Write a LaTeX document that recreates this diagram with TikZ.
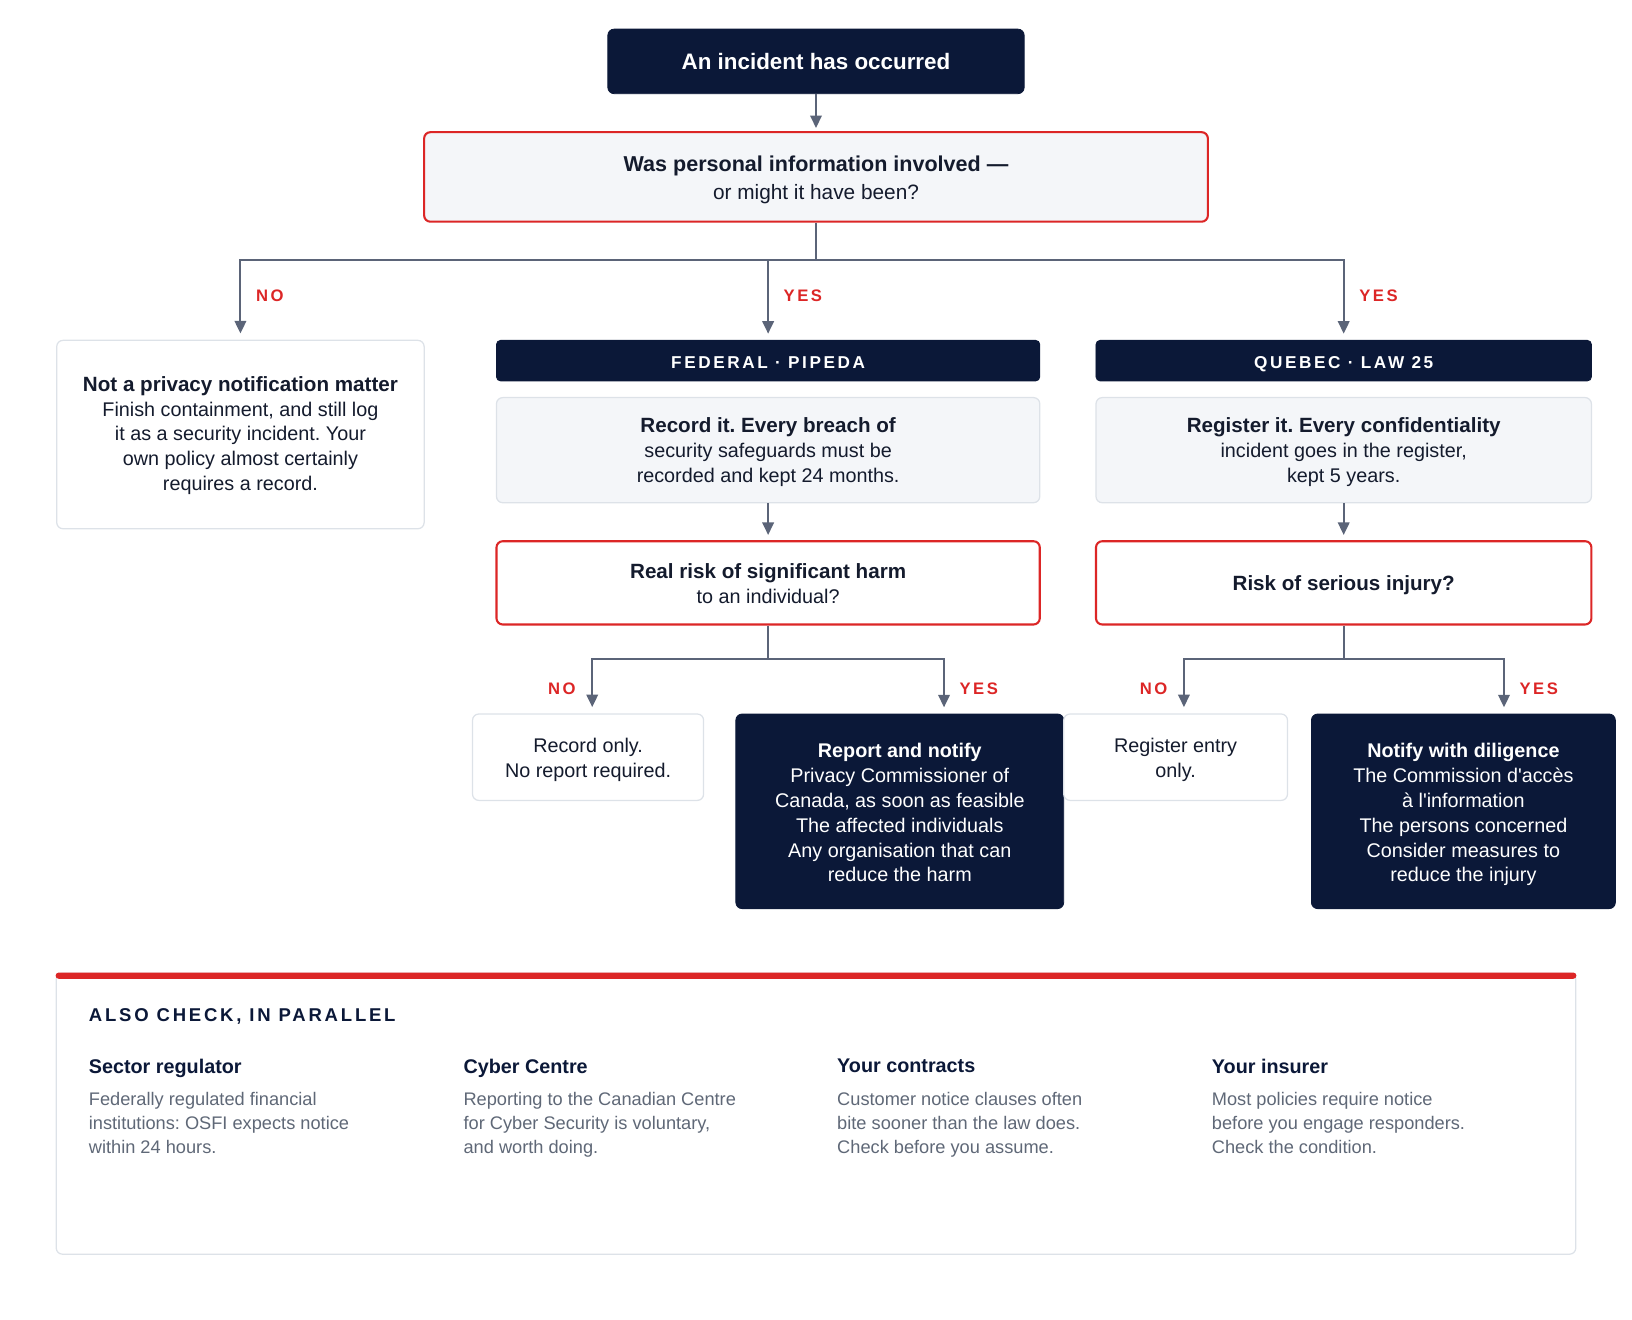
\documentclass[tikz,border=0pt]{standalone}
\usepackage{fontspec}
\setmainfont{Liberation Sans}
\newfontfamily\plainfont{Liberation Sans}
\newfontfamily\trackfont{Liberation Sans}[LetterSpace=15]
\usetikzlibrary{shapes,arrows,arrows.meta,positioning,calc}
\definecolor{navy}{HTML}{0B1838}
\definecolor{alert}{HTML}{DC2626}
\definecolor{paper}{HTML}{F4F6F9}
\definecolor{edge}{HTML}{DDE2E8}
\definecolor{wire}{HTML}{5B6478}
\definecolor{ink}{HTML}{141B2D}
\definecolor{muted}{HTML}{5F6877}
\newcommand\lift[1]{\rule{0pt}{#1}}
\newcommand\lead[1]{{\fontsize{9.9}{12}\selectfont\bfseries #1}}
\frenchspacing

\begin{document}
\begin{tikzpicture}[x=0.5pt, y=-0.5pt, node distance=43pt, auto]
\tikzstyle{dark} = [rectangle, draw=navy, fill=navy, text=white, rounded corners=3pt, align=center, inner sep=0pt, font={\fontsize{9.5}{12}\selectfont}, execute at begin node={\rule{0pt}{10.5pt}}, execute at end node={\rule[-3pt]{0pt}{0pt}}]
\tikzstyle{plain} = [dark, draw=edge, line width=0.6pt, fill=white, text=ink]
\tikzstyle{soft} = [plain, fill=paper]
\tikzstyle{ask} = [plain, draw=alert, line width=1pt]
\tikzstyle{banner} = [dark, minimum height=19.5pt, rounded corners=2pt, font={\trackfont\bfseries\fontsize{8.25}{12}\selectfont}]
\tikzstyle{tag} = [text=alert, inner sep=0pt, font={\trackfont\bfseries\fontsize{8}{10}\selectfont}]
\tikzstyle{line} = [draw=wire, line width=1pt, -{Triangle[length=6pt, width=5.5pt]}, shorten >=3pt]
\tikzstyle{stem} = [draw=wire, line width=1pt]
\tikzstyle{colhead} = [anchor=north west, inner sep=0pt, text=navy, font={\bfseries\fontsize{9.5}{12}\selectfont}]
\tikzstyle{colbody} = [anchor=north west, inner sep=0pt, text=muted, align=left, font={\fontsize{8.75}{11.5}\selectfont}]

\useasboundingbox (0,0) rectangle (1568,1268);

\node [dark, minimum width=200pt, minimum height=31pt, font={\bfseries\fontsize{10.75}{13}\selectfont}] (incident) at (784,59) {An incident has occurred};
\node [ask, fill=paper, below of=incident, node distance=55.5pt, minimum width=376.5pt, minimum height=43pt, font={\fontsize{10}{13}\selectfont}] (question) {{\fontsize{10.35}{13}\selectfont\bfseries\lift{11.2pt}Was personal information involved —}\\or might it have been?};

\node [plain, minimum width=176.5pt, minimum height=90.5pt] (notpriv) at (231,417.5) {\lead{\lift{9.2pt}Not a privacy notification matter}\\Finish containment, and still log\\it as a security incident. Your\\own policy almost certainly\\requires a record.};

\node [banner, minimum width=261pt] (fed) at (738,346.5) {FEDERAL · PIPEDA};
\node [soft, below of=fed, minimum width=261pt, minimum height=50.5pt] (record) {\lead{\lift{10.2pt}Record it. Every breach of}\\security safeguards must be\\recorded and kept 24 months.};
\node [ask, below of=record, node distance=63.75pt, minimum width=261pt, minimum height=40pt] (realrisk) {\lead{\lift{11.2pt}Real risk of significant harm}\\to an individual?};
\node [plain, minimum width=111pt, minimum height=41.5pt] (recordonly) at (565,727.5) {\lift{10.9pt}Record only.\\No report required.};
\node [dark, minimum width=157.5pt, minimum height=93.5pt] (report) at (864.5,779.5) {\textbf{\lift{10.9pt}Report and notify}\\Privacy Commissioner of\\Canada, as soon as feasible\\The affected individuals\\Any organisation that can\\reduce the harm};

\node [banner, right of=fed, node distance=276.5pt, minimum width=238pt] (qc) {QUEBEC · LAW 25};
\node [soft, below of=qc, minimum width=238pt, minimum height=50.5pt] (register) {\lead{\lift{10.2pt}Register it. Every confidentiality}\\incident goes in the register,\\kept 5 years.};
\node [ask, below of=register, node distance=63.75pt, minimum width=238pt, minimum height=40pt] (injury) {\lead{Risk of serious injury?}};
\node [plain, minimum width=107.5pt, minimum height=41.5pt] (regentry) at (1129.5,727.5) {\lift{10.9pt}Register entry\\only.};
\node [dark, minimum width=146pt, minimum height=93.5pt, font={\plainfont\fontsize{9.5}{12}\selectfont}] (notify) at (1406,779.5) {\textbf{\lift{10.9pt}Notify with diligence}\\The Commission d'accès\\à l'information\\The persons concerned\\Consider measures to\\reduce the injury};

\coordinate (fork) at (784,250);
\coordinate (fedfork) at (738,633);
\coordinate (qcfork) at (1291,633);

\path [line, shorten >=1.5pt] (incident) -- (question);
\path [stem] (question) -- (fork);
\path [line] (fork) -| (notpriv.north) node [tag, pos=0.723, right=7pt] {NO};
\path [line] (fork) -| (fed.north) node [tag, pos=0.723, right=7pt] {YES};
\path [line] (fork) -| (qc.north) node [tag, pos=0.723, right=7pt] {YES};

\path [line, shorten >=2.5pt] (record) -- (realrisk);
\path [stem] (realrisk) -- (fedfork);
\path [line] (fedfork) -| ([xshift=2pt]recordonly.north) node [tag, pos=0.77, left=7.5pt] {NO};
\path [line] (fedfork) -| ([xshift=21.25pt]report.north) node [tag, pos=0.77, right=7pt] {YES};

\path [line, shorten >=2.5pt] (register) -- (injury);
\path [stem] (injury) -- (qcfork);
\path [line] (qcfork) -| ([xshift=4pt]regentry.north) node [tag, pos=0.77, left=7.5pt] {NO};
\path [line] (qcfork) -| ([xshift=19.5pt]notify.north) node [tag, pos=0.77, right=7pt] {YES};

\node [plain, minimum width=730pt, minimum height=135pt, rounded corners=3pt] (panel) at (784,1070) {};
\fill [alert, rounded corners=1.5pt] (panel.north west) rectangle ([yshift=-3pt]panel.north east);
\node [colhead, font={\trackfont\bfseries\fontsize{8.9}{10}\selectfont}] (also) at (85,969) {ALSO CHECK, IN PARALLEL};

\node [colhead] (sector) at (85,1017) {Sector regulator};
\node [colhead] (cyber) at (445,1017) {Cyber Centre};
\node [colhead] (contracts) at (804,1017) {Your contracts};
\node [colhead] (insurer) at (1164,1017) {Your insurer};
\node [colbody] (sectortext) at (85,1049) {Federally regulated financial\\institutions: OSFI expects notice\\within 24 hours.};
\node [colbody] (cybertext) at (445,1049) {Reporting to the Canadian Centre\\for Cyber Security is voluntary,\\and worth doing.};
\node [colbody] (contractstext) at (804,1049) {Customer notice clauses often\\bite sooner than the law does.\\Check before you assume.};
\node [colbody] (insurertext) at (1164,1049) {Most policies require notice\\before you engage responders.\\Check the condition.};
\end{tikzpicture}
\end{document}
